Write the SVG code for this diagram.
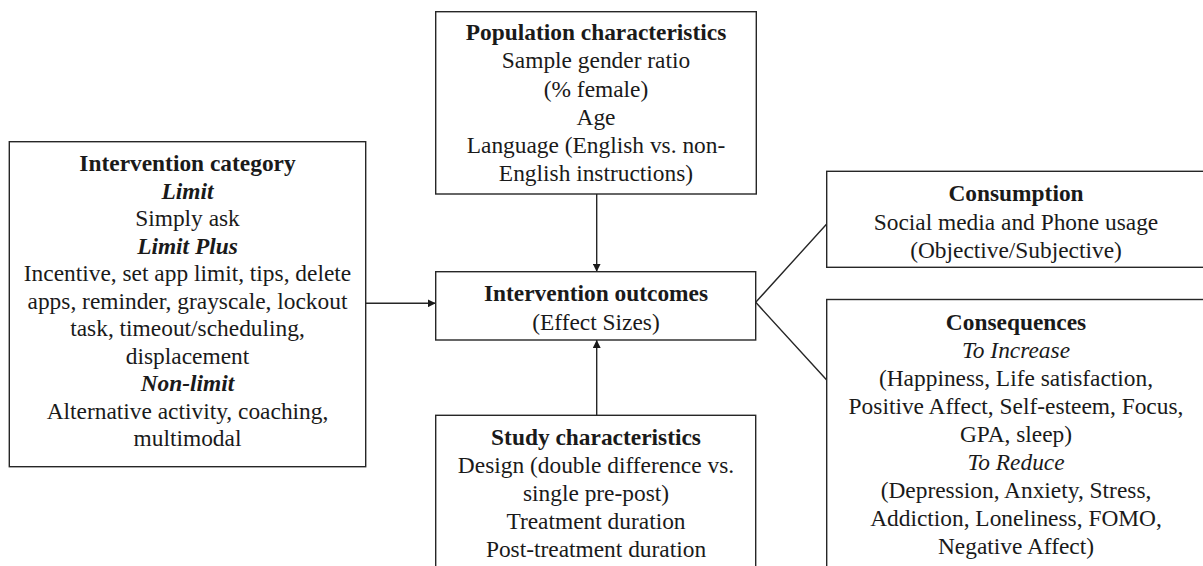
<svg xmlns="http://www.w3.org/2000/svg" width="1203" height="566" viewBox="0 0 1203 566">
<defs>
<style>
.box{fill:#fff;stroke:#262626;stroke-width:1.4}
.t{font-family:'Liberation Serif','Times New Roman',serif;font-size:23.4px;fill:#1a1a1a;text-anchor:middle}
.b{font-weight:bold}
.i{font-style:italic}
.bi{font-weight:bold;font-style:italic}
.c{stroke:#262626;stroke-width:1.4;fill:none}
</style>
<marker id="ah" viewBox="0 0 10 10" refX="10" refY="5" markerWidth="8" markerHeight="8" markerUnits="userSpaceOnUse" orient="auto">
<path d="M0,0 L10,5 L0,10 z" fill="#1a1a1a"/>
</marker>
</defs>
<rect width="1203" height="566" fill="#fff"/>
<g id="connectors">
<line class="c" x1="365.7" y1="303.3" x2="435.7" y2="303.3" marker-end="url(#ah)"/>
<line class="c" x1="596.7" y1="194" x2="596.7" y2="271.7" marker-end="url(#ah)"/>
<line class="c" x1="596.7" y1="415.3" x2="596.7" y2="340" marker-end="url(#ah)"/>
<polyline class="c" points="826.7,224 755.7,302.3 826.7,380"/>
</g>
<g id="intervention-category">
<rect class="box" x="9.3" y="141.7" width="356.4" height="325"/>
<text class="t b" x="187.5" y="171.2">Intervention category</text>
<text class="t bi" x="187.5" y="198.7">Limit</text>
<text class="t" x="187.5" y="226.2">Simply ask</text>
<text class="t bi" x="187.5" y="253.7">Limit Plus</text>
<text class="t" x="187.5" y="281.2">Incentive, set app limit, tips, delete</text>
<text class="t" x="187.5" y="308.7">apps, reminder, grayscale, lockout</text>
<text class="t" x="187.5" y="336.2">task, timeout/scheduling,</text>
<text class="t" x="187.5" y="363.7">displacement</text>
<text class="t bi" x="187.5" y="391.2">Non-limit</text>
<text class="t" x="187.5" y="418.7">Alternative activity, coaching,</text>
<text class="t" x="187.5" y="446.2">multimodal</text>
</g>
<g id="population">
<rect class="box" x="435.7" y="11.7" width="320.6" height="182.3"/>
<text class="t b" x="596" y="40.2">Population characteristics</text>
<text class="t" x="596" y="68.4">Sample gender ratio</text>
<text class="t" x="596" y="96.6">(% female)</text>
<text class="t" x="596" y="124.8">Age</text>
<text class="t" x="596" y="153">Language (English vs. non-</text>
<text class="t" x="596" y="181.2">English instructions)</text>
</g>
<g id="outcomes">
<rect class="box" x="435.7" y="271.7" width="320" height="68.3"/>
<text class="t b" x="596" y="301.2">Intervention outcomes</text>
<text class="t" x="596" y="329.5">(Effect Sizes)</text>
</g>
<g id="study">
<rect class="box" x="435.7" y="415.3" width="320" height="170"/>
<text class="t b" x="596" y="444.5">Study characteristics</text>
<text class="t" x="596" y="472.7">Design (double difference vs.</text>
<text class="t" x="596" y="500.7">single pre-post)</text>
<text class="t" x="596" y="528.7">Treatment duration</text>
<text class="t" x="596" y="556.7">Post-treatment duration</text>
</g>
<g id="consumption">
<rect class="box" x="826.7" y="171.3" width="379" height="96"/>
<text class="t b" x="1016" y="201.2">Consumption</text>
<text class="t" x="1016" y="229.5">Social media and Phone usage</text>
<text class="t" x="1016" y="257.5">(Objective/Subjective)</text>
</g>
<g id="consequences">
<rect class="box" x="826.7" y="299.5" width="379" height="290"/>
<text class="t b" x="1016" y="330.2">Consequences</text>
<text class="t i" x="1016" y="358.2">To Increase</text>
<text class="t" x="1016" y="386.2">(Happiness, Life satisfaction,</text>
<text class="t" x="1016" y="414.2">Positive Affect, Self-esteem, Focus,</text>
<text class="t" x="1016" y="442.2">GPA, sleep)</text>
<text class="t i" x="1016" y="470.2">To Reduce</text>
<text class="t" x="1016" y="498.2">(Depression, Anxiety, Stress,</text>
<text class="t" x="1016" y="526.2">Addiction, Loneliness, FOMO,</text>
<text class="t" x="1016" y="554.2">Negative Affect)</text>
</g>
</svg>
